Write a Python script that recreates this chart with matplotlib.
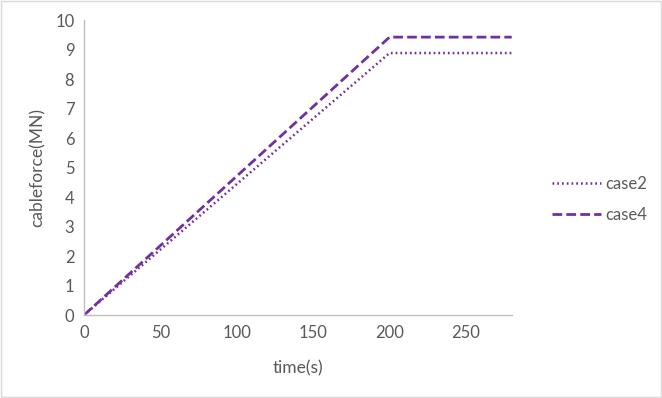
import matplotlib
matplotlib.use('Agg')
import matplotlib.pyplot as plt

# data
time_s = [0, 200, 280]
case2 = [0, 8.88, 8.88]
case4 = [0, 9.42, 9.42]
xticks = [0, 50, 100, 150, 200, 250]
yticks = list(range(0, 11))

plt.rcParams['font.family'] = ['Lato', 'DejaVu Sans']
grey = '#595959'
purple = '#7030A0'

fig = plt.figure(figsize=(6.62, 3.98), dpi=100)
ax = fig.add_axes([0.127, 0.2085, 0.646, 0.7412])

ax.plot(time_s, case2, color=purple, lw=1.8, ls=(0, (0.7, 1.2)), label='case2')
ax.plot(time_s, case4, color=purple, lw=2.0, ls=(0, (3.5, 1.5)), label='case4')

ax.set_xlim(0, 280)
ax.set_ylim(0, 10)
ax.set_xticks(xticks)
ax.set_yticks(yticks)
ax.tick_params(length=0, labelsize=12, labelcolor=grey, pad=7)
for s in ['top', 'right']:
    ax.spines[s].set_visible(False)
for s in ['left', 'bottom']:
    ax.spines[s].set_color('#BFBFBF')
    ax.spines[s].set_linewidth(1)

ax.set_xlabel('time(s)', fontsize=12.5, color=grey, labelpad=14)
ax.set_ylabel('cableforce(MN)', fontsize=12.5, color=grey, labelpad=7)

leg = ax.legend(loc='center left', bbox_to_anchor=(1.06, 0.392), frameon=False,
                fontsize=12, handlelength=2.9, labelspacing=0.9, handletextpad=0.3)
for t in leg.get_texts():
    t.set_color(grey)

# outer border
fig.patches.append(plt.Rectangle((0.002, 0.003), 0.996, 0.994, transform=fig.transFigure,
                                 fill=False, edgecolor='#D9D9D9', lw=1))

fig.savefig('out.png', dpi=100)
